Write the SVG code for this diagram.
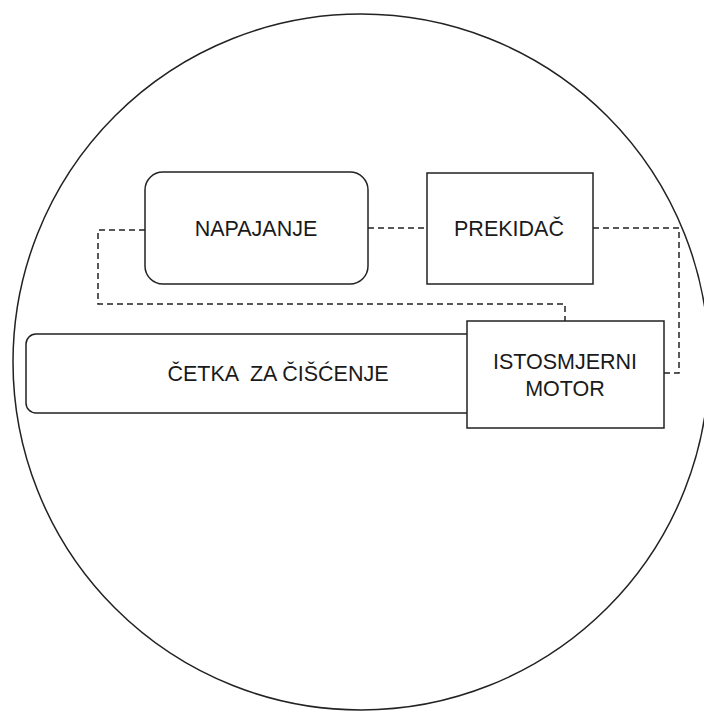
<svg xmlns="http://www.w3.org/2000/svg" width="704" height="711" viewBox="0 0 704 711">
<style>
.shape{fill:#ffffff;stroke:#222222;stroke-width:1.5}
.edge{fill:none;stroke:#222222;stroke-width:1.5;stroke-dasharray:6 4}
.lbl{font-family:"Liberation Sans",Arial,sans-serif;font-size:21.5px;fill:#1a1a1a;text-anchor:middle}
</style>
<rect width="704" height="711" fill="#ffffff"/>
<g id="kuciste">
<circle cx="361" cy="362" r="348" fill="none" stroke="#222222" stroke-width="1.5"/>
</g>
<g id="connectors">
<path class="edge" d="M368,228 L427,228"/>
<path class="edge" d="M145,230 L98,230 L98,304 L565,304 L565,321"/>
<path class="edge" d="M593,228 L679,228 L679,373 L664,373"/>
</g>
<g id="cetka">
<rect class="shape" x="26" y="334" width="505" height="79" rx="10" ry="10"/>
<text class="lbl" x="278" y="381" xml:space="preserve">ČETKA  ZA ČIŠĆENJE</text>
</g>
<g id="motor">
<rect class="shape" x="467" y="321" width="197" height="107"/>
<text class="lbl" x="565" y="369">ISTOSMJERNI</text>
<text class="lbl" x="565" y="396">MOTOR</text>
</g>
<g id="napajanje">
<rect class="shape" x="145" y="172" width="223" height="112" rx="18" ry="18"/>
<text class="lbl" x="256" y="236">NAPAJANJE</text>
</g>
<g id="prekidac">
<rect class="shape" x="427" y="173" width="166" height="111"/>
<text class="lbl" x="509" y="236">PREKIDAČ</text>
</g>
</svg>
